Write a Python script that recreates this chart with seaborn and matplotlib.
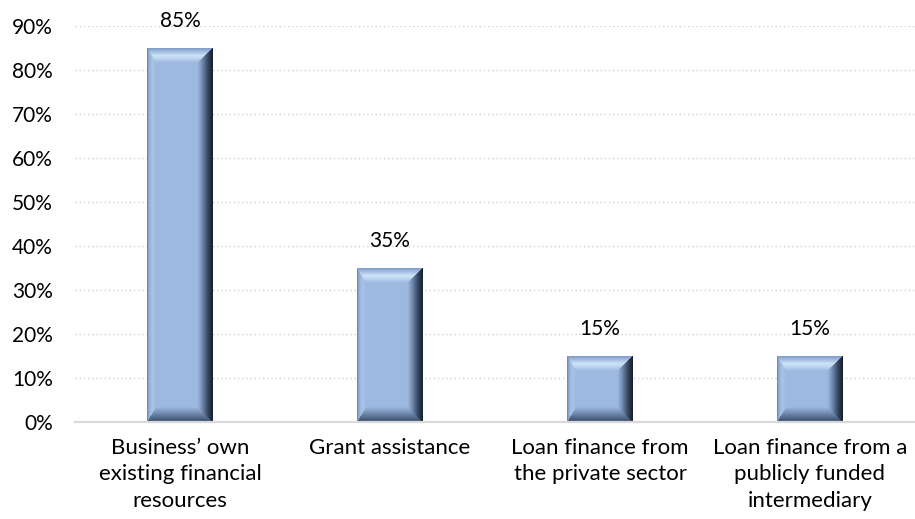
import numpy as np
import pandas as pd
import matplotlib
matplotlib.use("Agg")
import matplotlib.pyplot as plt
import seaborn as sns

categories = [
    "Business\u2019 own\nexisting financial\nresources",
    "Grant assistance",
    "Loan finance from\nthe private sector",
    "Loan finance from a\npublicly funded\nintermediary",
]
shares = [0.85, 0.35, 0.15, 0.15]
y_ticks = [0.0, 0.1, 0.2, 0.3, 0.4, 0.5, 0.6, 0.7, 0.8, 0.9]
y_tick_labels = ["0%", "10%", "20%", "30%", "40%", "50%", "60%", "70%", "80%", "90%"]

df = pd.DataFrame({"source": categories, "share": shares})

sns.set_theme(style="white")
plt.rcParams["font.family"] = ["Lato", "DejaVu Sans"]

W, H, DPI = 915, 519, 100
fig = plt.figure(figsize=(W / DPI, H / DPI), dpi=DPI)
ax = fig.add_axes([75 / W, 1 - 422 / H, 1 - 75 / W, (422 - 26) / H])

base_rgb = (157 / 255, 185 / 255, 224 / 255)
sns.barplot(data=df, x="source", y="share", color=base_rgb, saturation=1,
            width=0.31, ax=ax, zorder=3, edgecolor="none")

ax.set_xlim(-0.5, 3.5)
ax.set_ylim(0, 0.9)
ax.set_yticks(y_ticks)
ax.set_yticklabels(y_tick_labels)
ax.set_xlabel("")
ax.set_ylabel("")

ax.grid(axis="y", color="#d0d0d0", linestyle=(0, (1, 2)), linewidth=1, zorder=0)
ax.grid(axis="x", visible=False)
for s in ["top", "right", "left"]:
    ax.spines[s].set_visible(False)
ax.spines["bottom"].set_color("#d9d9d9")
ax.spines["bottom"].set_linewidth(1.6)
ax.spines["bottom"].set_zorder(4)

ax.tick_params(axis="y", length=0, pad=16, labelsize=15, labelcolor="#000000")
ax.tick_params(axis="x", length=0, pad=11.5, labelsize=16, labelcolor="#000000")
for lab in ax.get_xticklabels():
    lab.set_linespacing(1.4)
    lab.set_horizontalalignment("center")


def profile(t, stops):
    pos = [s[0] for s in stops]
    out = np.zeros(t.shape + (3,))
    for c in range(3):
        out[..., c] = np.interp(t, pos, [s[1][c] / 255 for s in stops])
    return out


def bevel_image(w, h):
    yy, xx = np.mgrid[0:h, 0:w] + 0.5
    widths = np.array([9.0, 15.0, 15.0, 15.0])  # left, right, top, bottom
    d = np.stack([xx, w - xx, yy, h - yy])
    dn = d / widths[:, None, None]
    idx = dn.argmin(0)
    t = np.clip(dn.min(0), 0, 1)
    b = tuple(int(v * 255) for v in base_rgb)
    img = np.tile(np.array(b) / 255, (h, w, 1)).astype(float)
    sides = {
        0: [(0, (105, 130, 170)), (0.25, (150, 178, 218)), (0.6, (170, 196, 232)), (1, b)],
        1: [(0, (20, 28, 40)), (0.35, (58, 75, 100)), (0.7, (112, 137, 175)), (1, b)],
        2: [(0, (125, 155, 200)), (0.5, (205, 225, 248)), (0.7, (190, 212, 242)), (1, b)],
        3: [(0, (55, 72, 98)), (0.4, (95, 118, 152)), (1, b)],
    }
    for k, stops in sides.items():
        m = idx == k
        img[m] = profile(t, stops)[m]
    return img


for patch in ax.patches:
    x0, wd, ht = patch.get_x(), patch.get_width(), patch.get_height()
    if ht <= 0:
        continue
    p0 = ax.transData.transform((x0, 0))
    p1 = ax.transData.transform((x0 + wd, ht))
    wpx = max(int(round(p1[0] - p0[0])), 2)
    hpx = max(int(round(p1[1] - p0[1])), 2)
    ax.imshow(bevel_image(wpx, hpx), extent=(x0, x0 + wd, 0, ht), origin="upper",
              aspect="auto", interpolation="bilinear", zorder=3.5)

ax.set_xlim(-0.5, 3.5)
ax.set_ylim(0, 0.9)

for i, v in enumerate(shares):
    ax.annotate(f"{v:.0%}", xy=(i, v), xytext=(0, 12), textcoords="offset points",
                ha="center", va="bottom", fontsize=15, color="#000000", zorder=5)

fig.savefig("out.png", dpi=DPI)
